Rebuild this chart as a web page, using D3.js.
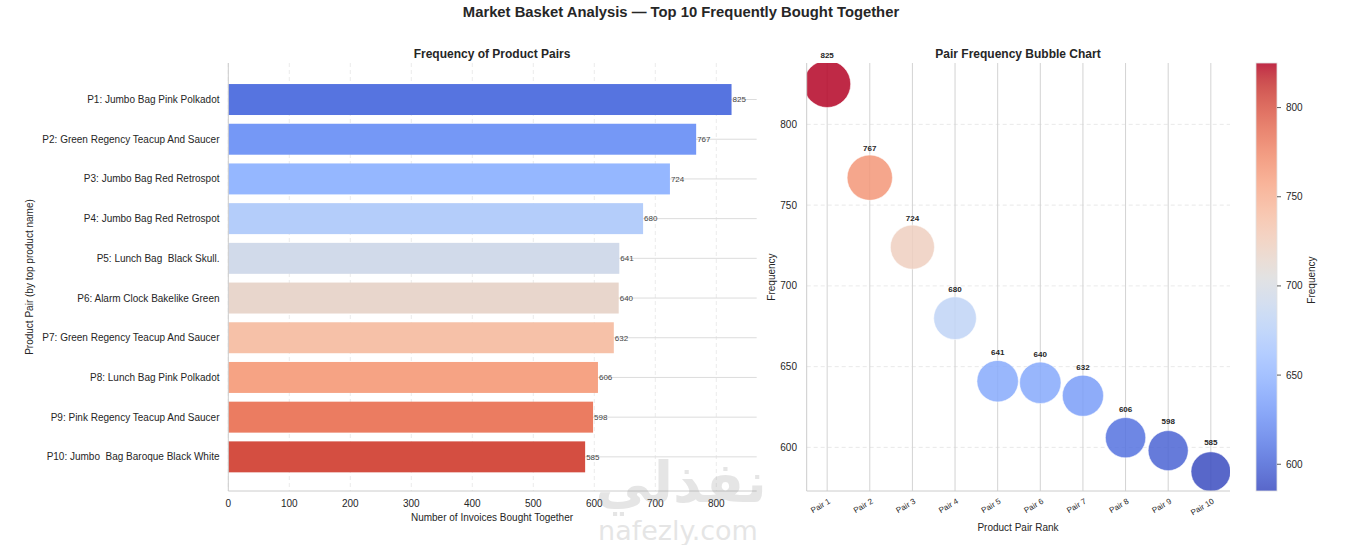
<!DOCTYPE html>
<html>
<head>
<meta charset="utf-8">
<script src="https://cdn.jsdelivr.net/npm/d3@7"></script>
<style>
  body { margin: 0; background: #fff; }
  svg { font-family: "Liberation Sans", Arial, sans-serif; }
  .pre { white-space: pre; }
</style>
</head>
<body>
<div id="chart"></div>
<script>
// data
const pairNames = [
  "P1: Jumbo Bag Pink Polkadot",
  "P2: Green Regency Teacup And Saucer",
  "P3: Jumbo Bag Red Retrospot",
  "P4: Jumbo Bag Red Retrospot",
  "P5: Lunch Bag  Black Skull.",
  "P6: Alarm Clock Bakelike Green",
  "P7: Green Regency Teacup And Saucer",
  "P8: Lunch Bag Pink Polkadot",
  "P9: Pink Regency Teacup And Saucer",
  "P10: Jumbo  Bag Baroque Black White"
];
const frequency = [825, 767, 724, 680, 641, 640, 632, 606, 598, 585];
const rankLabels = ["Pair 1", "Pair 2", "Pair 3", "Pair 4", "Pair 5", "Pair 6", "Pair 7", "Pair 8", "Pair 9", "Pair 10"];
const barTicks = [0, 100, 200, 300, 400, 500, 600, 700, 800];
const freqTicks = [600, 650, 700, 750, 800];

const W = 1364, H = 545;

// matplotlib coolwarm
const coolwarmStops = [
  [59,76,192],[68,90,204],[77,104,215],[87,117,225],[98,130,234],[108,142,241],
  [119,154,247],[130,165,251],[141,176,254],[152,185,255],[163,194,255],[174,201,253],
  [184,208,249],[194,213,244],[204,217,238],[213,219,230],[221,221,221],[229,216,209],
  [236,211,197],[241,204,185],[245,196,173],[247,187,160],[247,177,148],[247,166,135],
  [244,154,123],[241,141,111],[236,127,99],[229,112,88],[222,96,77],[213,80,66],
  [203,62,56],[192,40,47],[180,4,38]
].map(c => d3.rgb(c[0], c[1], c[2]).formatHex());
const coolwarm = d3.piecewise(d3.interpolateRgb, coolwarmStops);

const svg = d3.select("#chart").append("svg")
  .attr("width", W).attr("height", H);

svg.append("text")
  .attr("x", 681).attr("y", 17)
  .attr("text-anchor", "middle")
  .attr("font-size", 14.8).attr("font-weight", "bold").attr("fill", "#262626")
  .text("Market Basket Analysis — Top 10 Frequently Bought Together");

// ---------- left: horizontal bars ----------
const xBar = d3.scaleLinear().domain([0, 825 * 1.05]).range([228.3, 756.7]);
const yBar = d3.scaleLinear().domain([-0.92, 9.86]).range([63, 491]);
const barH = 0.78;

const left = svg.append("g");

// grid
left.selectAll(".vgrid").data(barTicks).enter().append("line")
  .attr("x1", d => xBar(d)).attr("x2", d => xBar(d))
  .attr("y1", yBar.range()[0]).attr("y2", yBar.range()[1])
  .attr("stroke", "#e6e6e6").attr("stroke-dasharray", "4,3").attr("stroke-width", 0.8);
left.selectAll(".hgrid").data(frequency).enter().append("line")
  .attr("x1", xBar.range()[0]).attr("x2", xBar.range()[1])
  .attr("y1", (d, i) => yBar(i)).attr("y2", (d, i) => yBar(i))
  .attr("stroke", "#dcdcdc").attr("stroke-width", 1);

left.selectAll("rect").data(frequency).enter().append("rect")
  .attr("x", xBar(0))
  .attr("y", (d, i) => yBar(i - barH / 2))
  .attr("width", d => xBar(d) - xBar(0))
  .attr("height", yBar(barH) - yBar(0))
  .attr("fill", (d, i) => coolwarm((i + 1) / 11));

left.selectAll(".val").data(frequency).enter().append("text")
  .attr("x", d => xBar(d) + 1)
  .attr("y", (d, i) => yBar(i))
  .attr("dy", "0.35em")
  .attr("font-size", 8).attr("fill", "#444")
  .text(d => d);

// spines
left.append("line").attr("x1", xBar(0)).attr("x2", xBar(0))
  .attr("y1", 63).attr("y2", 491).attr("stroke", "#cccccc");
left.append("line").attr("x1", xBar.range()[0]).attr("x2", xBar.range()[1])
  .attr("y1", 491).attr("y2", 491).attr("stroke", "#cccccc");

left.selectAll(".ylab").data(pairNames).enter().append("text")
  .attr("class", "pre")
  .attr("x", 219.5).attr("y", (d, i) => yBar(i)).attr("dy", "0.35em")
  .attr("text-anchor", "end").attr("font-size", 10).attr("fill", "#262626")
  .text(d => d);

left.selectAll(".xlab").data(barTicks).enter().append("text")
  .attr("x", d => xBar(d)).attr("y", 507)
  .attr("text-anchor", "middle").attr("font-size", 10).attr("fill", "#262626")
  .text(d => d);

left.append("text").attr("x", 492).attr("y", 521)
  .attr("text-anchor", "middle").attr("font-size", 10).attr("fill", "#262626")
  .text("Number of Invoices Bought Together");

left.append("text")
  .attr("transform", "translate(33,277) rotate(-90)")
  .attr("text-anchor", "middle").attr("font-size", 10).attr("fill", "#262626")
  .text("Product Pair (by top product name)");

left.append("text").attr("x", 492).attr("y", 58)
  .attr("text-anchor", "middle").attr("font-size", 12).attr("font-weight", "bold").attr("fill", "#262626")
  .text("Frequency of Product Pairs");

// ---------- right: bubbles ----------
const xB = d3.scaleLinear().domain([-0.48, 9.45]).range([806.7, 1230]);
const yB = d3.scaleLinear().domain([573, 838]).range([491, 63]);
const rB = d3.scaleSqrt().domain([0, 825]).range([0, 23.5]);
const cNorm = d3.scaleLinear().domain([d3.min(frequency), d3.max(frequency)]).range([0, 1]);

const right = svg.append("g");

svg.append("defs").append("clipPath").attr("id", "bclip")
  .append("rect").attr("x", 806.7).attr("y", 63).attr("width", 1230 - 806.7).attr("height", 428);

right.selectAll(".hg").data(freqTicks).enter().append("line")
  .attr("x1", xB.range()[0]).attr("x2", xB.range()[1])
  .attr("y1", d => yB(d)).attr("y2", d => yB(d))
  .attr("stroke", "#e3e3e3").attr("stroke-dasharray", "4,3").attr("stroke-width", 0.8);
right.selectAll(".vg").data(rankLabels).enter().append("line")
  .attr("x1", (d, i) => xB(i)).attr("x2", (d, i) => xB(i))
  .attr("y1", 63).attr("y2", 491)
  .attr("stroke", "#d3d3d3").attr("stroke-width", 1);

right.append("g").attr("clip-path", "url(#bclip)")
  .selectAll("circle").data(frequency).enter().append("circle")
  .attr("cx", (d, i) => xB(i))
  .attr("cy", d => yB(d))
  .attr("r", d => rB(d))
  .attr("fill", d => coolwarm(cNorm(d)))
  .attr("fill-opacity", 0.85)
  .attr("stroke", "#fff").attr("stroke-width", 0.5);

right.selectAll(".blab").data(frequency).enter().append("text")
  .attr("x", (d, i) => xB(i))
  .attr("y", d => yB(d) - 29)
  .attr("dy", "0.35em")
  .attr("text-anchor", "middle").attr("font-size", 8).attr("font-weight", "bold").attr("fill", "#262626")
  .text(d => d);

right.append("line").attr("x1", 806.7).attr("x2", 806.7)
  .attr("y1", 63).attr("y2", 491).attr("stroke", "#cccccc");
right.append("line").attr("x1", 806.7).attr("x2", 1230)
  .attr("y1", 491).attr("y2", 491).attr("stroke", "#cccccc");

right.selectAll(".yt").data(freqTicks).enter().append("text")
  .attr("x", 797).attr("y", d => yB(d)).attr("dy", "0.35em")
  .attr("text-anchor", "end").attr("font-size", 10).attr("fill", "#262626")
  .text(d => d);

right.selectAll(".xt").data(rankLabels).enter().append("text")
  .attr("transform", (d, i) => `translate(${xB(i) + 1},${498}) rotate(-30)`)
  .attr("text-anchor", "end").attr("dy", "0.7em").attr("font-size", 8).attr("fill", "#262626")
  .text(d => d);

right.append("text").attr("x", 1018).attr("y", 531)
  .attr("text-anchor", "middle").attr("font-size", 10).attr("fill", "#262626")
  .text("Product Pair Rank");

right.append("text")
  .attr("transform", "translate(775,277) rotate(-90)")
  .attr("text-anchor", "middle").attr("font-size", 10).attr("fill", "#262626")
  .text("Frequency");

right.append("text").attr("x", 1018).attr("y", 58)
  .attr("text-anchor", "middle").attr("font-size", 12).attr("font-weight", "bold").attr("fill", "#262626")
  .text("Pair Frequency Bubble Chart");

// colorbar
const cbY = d3.scaleLinear().domain([585, 825]).range([491, 63]);
const grad = svg.select("defs").append("linearGradient")
  .attr("id", "cw").attr("x1", 0).attr("x2", 0).attr("y1", 1).attr("y2", 0);
grad.selectAll("stop").data(d3.range(0, 1.0001, 0.02)).enter().append("stop")
  .attr("offset", d => d)
  .attr("stop-color", d => coolwarm(d))
  .attr("stop-opacity", 0.85);
right.append("rect").attr("x", 1256).attr("y", 63).attr("width", 21).attr("height", 428)
  .attr("fill", "url(#cw)").attr("stroke", "#e0e0e0").attr("stroke-width", 0.8);
right.selectAll(".cbt").data(freqTicks).enter().append("line")
  .attr("x1", 1277).attr("x2", 1281)
  .attr("y1", d => cbY(d)).attr("y2", d => cbY(d))
  .attr("stroke", "#333").attr("stroke-width", 0.8);
right.selectAll(".cbl").data(freqTicks).enter().append("text")
  .attr("x", 1286).attr("y", d => cbY(d)).attr("dy", "0.35em")
  .attr("font-size", 10).attr("fill", "#262626")
  .text(d => d);
right.append("text")
  .attr("transform", "translate(1315,280) rotate(-90)")
  .attr("text-anchor", "middle").attr("font-size", 10).attr("fill", "#262626")
  .text("Frequency");

// watermark (sits over the axis like in the source image)
const wm = svg.append("g").attr("fill", "#9a9a9a").attr("opacity", 0.25);
wm.append("text").attr("x", 681).attr("y", 502)
  .attr("text-anchor", "middle").attr("font-family", "DejaVu Sans")
  .attr("font-weight", "bold").attr("font-size", 56)
  .text("نفذلي");
wm.append("text").attr("x", 678).attr("y", 540)
  .attr("text-anchor", "middle").attr("font-family", "DejaVu Sans")
  .attr("font-size", 27)
  .text("nafezly.com");
</script>
</body>
</html>
